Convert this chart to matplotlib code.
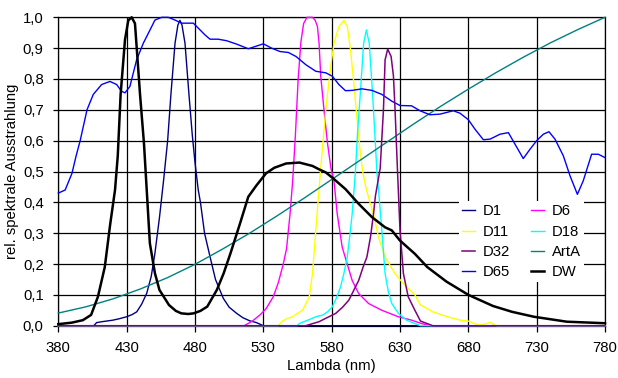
import matplotlib
matplotlib.use("Agg")
import matplotlib.pyplot as plt
from matplotlib.ticker import FixedLocator, FixedFormatter

plt.rcParams['font.family'] = ['Liberation Sans', 'DejaVu Sans']

# ---- data ----
d65_wl = [380, 385, 390, 393, 396, 401, 405.6, 411.7, 417.8, 422.7, 426.3, 428.8, 432.4, 437.3, 442.2,
          447.1, 450.7, 455.6, 460.5, 465.4, 470.2, 475.1, 478.8, 482.4, 487.3, 491, 497, 503.2, 510.5,
          519, 523.9, 530, 536.1, 542.2, 548.3, 553.9, 561.2, 568.4, 575.7, 580.5, 585.3, 590.1, 595,
          602.2, 609.5, 616.7, 624, 630, 638.5, 644.6, 651.9, 659.3, 669, 673.9, 680, 684.9, 691, 695.9,
          703.2, 709.3, 714.1, 720.2, 725.1, 730, 734.9, 739, 743.4, 749.5, 754.4, 759.8, 764.1, 770.2,
          775.1, 780]
d65_val = [0.43, 0.44, 0.494, 0.55, 0.60, 0.70, 0.75, 0.782, 0.792, 0.782, 0.76, 0.755, 0.776, 0.862, 0.916,
           0.959, 0.991, 1.0, 1.0, 0.991, 0.981, 0.981, 0.981, 0.965, 0.943, 0.929, 0.929, 0.924, 0.913,
           0.898, 0.905, 0.914, 0.90, 0.889, 0.886, 0.873, 0.846, 0.825, 0.82, 0.809, 0.782, 0.762, 0.763,
           0.768, 0.763, 0.75, 0.728, 0.714, 0.713, 0.697, 0.684, 0.686, 0.697, 0.689, 0.668, 0.637, 0.603, 0.605,
           0.621, 0.626, 0.589, 0.542, 0.572, 0.60, 0.621, 0.629, 0.605, 0.551, 0.486, 0.426, 0.47, 0.556,
           0.556, 0.545]

d1_wl = [380, 406, 408, 412, 420, 425, 430, 434, 437.4, 441, 444.7, 448, 450.7, 454, 457, 460, 462.4,
         465.4, 467.5, 469, 470.5, 472.7, 475.6, 478, 480, 482.4, 484, 487, 491, 495, 500.7, 505, 510.5,
         515, 520, 525, 530, 780]
d1_val = [0, 0, 0.01, 0.013, 0.018, 0.023, 0.029, 0.036, 0.045, 0.07, 0.105, 0.16, 0.235, 0.35, 0.47, 0.6, 0.75,
          0.916, 0.975, 0.99, 0.975, 0.916, 0.75, 0.62, 0.53, 0.44, 0.40, 0.30, 0.224, 0.15, 0.089, 0.06, 0.04,
          0.026, 0.016, 0.01, 0.0, 0]

dw_wl = [380, 390, 398, 404, 409, 414, 418, 421.5, 423.5, 425.6, 428.8, 431.2, 433.7, 436.1, 438, 439.8,
         442.7, 444.7, 447, 450.7, 454, 461, 466, 470, 475, 479, 484, 489, 496, 501, 506, 513, 519, 525,
         532, 538, 546.7, 556.4, 566, 570.8, 575.7, 580.5, 590.1, 599.8, 609.5, 619.1, 624, 630, 640.9,
         650, 664, 680, 698, 712, 728, 752, 780]
dw_val = [0.005, 0.01, 0.018, 0.035, 0.094, 0.19, 0.33, 0.44, 0.55, 0.75, 0.927, 0.99, 1.0, 0.98, 0.862, 0.75,
          0.59, 0.44, 0.267, 0.17, 0.116, 0.067, 0.048, 0.04, 0.038, 0.04, 0.048, 0.062, 0.116, 0.17, 0.235,
          0.332, 0.418, 0.455, 0.494, 0.512, 0.526, 0.529, 0.518, 0.507, 0.497, 0.48, 0.443, 0.395, 0.352,
          0.319, 0.309, 0.276, 0.233, 0.19, 0.143, 0.10, 0.064, 0.045, 0.029, 0.013, 0.008]

d6_wl = [380, 516, 522, 527.6, 532, 537.3, 541, 544.6, 547, 549.5, 551.5, 553.5, 555.5, 557.5, 559.5, 562,
         566, 568, 569.6, 570.8, 572, 574.4, 576.9, 579.5, 581.7, 584.1, 587.7, 591.4, 595, 599.8, 607,
         616.7, 628.8, 638.5, 645, 652, 780]
d6_val = [0, 0, 0.015, 0.035, 0.055, 0.094, 0.14, 0.20, 0.25, 0.36, 0.47, 0.62, 0.80, 0.92, 0.98, 1.0,
          1.0, 0.99, 0.97, 0.916, 0.81, 0.70, 0.594, 0.51, 0.47, 0.362, 0.255, 0.20, 0.147, 0.104, 0.072,
          0.05, 0.029, 0.018, 0.008, 0, 0]

d11_wl = [380, 541, 544, 547.9, 551.5, 555, 558.7, 561, 563.6, 566, 568.4, 571.8, 575.7, 579.3, 581.7,
          585.3, 588.9, 591.4, 593.8, 596.2, 598.6, 601, 602.7, 605, 607, 610.6, 614.3, 619.1, 626.3,
          633.6, 640.9, 645, 648, 654, 664, 674, 680, 684, 688, 692, 696, 699, 701, 780]
d11_val = [0, 0, 0.015, 0.024, 0.029, 0.04, 0.05, 0.07, 0.094, 0.169, 0.31, 0.5, 0.70, 0.84, 0.916,
           0.97, 0.99, 0.97, 0.895, 0.787, 0.67, 0.56, 0.5, 0.45, 0.416, 0.362, 0.287, 0.223, 0.169,
           0.131, 0.10, 0.067, 0.06, 0.045, 0.03, 0.018, 0.015, 0.008, 0.002, 0.005, 0.011, 0.003, 0, 0]

d18_wl = [380, 555, 556.4, 563.6, 569, 573.2, 577, 580.5, 583.5, 586.5, 589, 591.4, 593.5, 595, 597.4,
          599, 601, 603.4, 605.4, 607.5, 609.9, 611.5, 613.1, 614.5, 616.7, 619.1, 621.5, 624, 628.8,
          634.8, 640.9, 645, 780]
d18_val = [0, 0, 0.007, 0.02, 0.03, 0.034, 0.045, 0.061, 0.09, 0.126, 0.17, 0.223, 0.3, 0.362, 0.5,
           0.63, 0.755, 0.916, 0.959, 0.916, 0.755, 0.63, 0.5, 0.43, 0.31, 0.169, 0.11, 0.072, 0.04,
           0.018, 0.007, 0, 0]

d32_wl = [380, 561, 570.8, 575.7, 583, 588, 592.6, 599.8, 603, 605.8, 608.5, 610.6, 612, 615.5, 617.9,
          619.1, 621, 623.5, 625.2, 626.4, 628.2, 630, 632.5, 636, 640.9, 645, 654, 780]
d32_val = [0, 0, 0.013, 0.024, 0.04, 0.06, 0.083, 0.147, 0.19, 0.223, 0.29, 0.362, 0.42, 0.51, 0.70,
           0.862, 0.897, 0.873, 0.81, 0.70, 0.5, 0.31, 0.169, 0.094, 0.05, 0.015, 0, 0]

arta_wl = [380, 400, 420, 440, 460, 480, 500, 520, 540, 560, 580, 600, 620, 640, 660, 680, 700, 720,
           740, 760, 780]
arta_val = [0.041, 0.061, 0.087, 0.119, 0.156, 0.199, 0.248, 0.300, 0.356, 0.414, 0.474, 0.534, 0.594,
            0.654, 0.712, 0.767, 0.820, 0.870, 0.917, 0.960, 1.0]

x_ticks = [380, 430, 480, 530, 580, 630, 680, 730, 780]
y_ticks = [0.0, 0.1, 0.2, 0.3, 0.4, 0.5, 0.6, 0.7, 0.8, 0.9, 1.0]
y_tick_labels = ["0,0", "0,1", "0,2", "0,3", "0,4", "0,5", "0,6", "0,7", "0,8", "0,9", "1,0"]

FS = 10.7

# ---- figure ----
fig = plt.figure(figsize=(6.18, 3.78), dpi=100)
ax = fig.add_axes([58.3 / 618, 1 - 325.7 / 378, (605 - 58.3) / 618, (325.7 - 17.3) / 378])

# name, x, y, colour, width, drawing order
series = [
    ("D1", d1_wl, d1_val, "#000080", 1.0, 3),
    ("D11", d11_wl, d11_val, "#FFFF00", 1.0, 3.2),
    ("D32", d32_wl, d32_val, "#800080", 1.1, 3.6),
    ("D65", d65_wl, d65_val, "#0000FF", 1.0, 3.5),
    ("D6", d6_wl, d6_val, "#FF00FF", 1.0, 3.1),
    ("D18", d18_wl, d18_val, "#00FFFF", 1.0, 3.3),
    ("ArtA", arta_wl, arta_val, "#008080", 1.0, 3.4),
    ("DW", dw_wl, dw_val, "#000000", 1.8, 3.8),
]
handles = []
for name, wl, val, col, lw, z in series:
    h, = ax.plot(wl, val, color=col, lw=lw, label=name, zorder=z, clip_on=False)
    handles.append(h)

ax.set_xlim(380, 780)
ax.set_ylim(0, 1.0)
ax.xaxis.set_major_locator(FixedLocator(x_ticks))
ax.set_xticklabels([str(v) for v in x_ticks])
ax.yaxis.set_major_locator(FixedLocator(y_ticks))
ax.yaxis.set_major_formatter(FixedFormatter(y_tick_labels))
ax.grid(True, color="black", lw=0.9, zorder=1)
ax.set_axisbelow(True)
for s in ax.spines.values():
    s.set_color("black")
    s.set_linewidth(0.9)
ax.tick_params(axis="x", direction="out", length=4, width=0.9, colors="black",
               labelsize=FS, pad=7)
ax.tick_params(axis="y", direction="out", length=3.5, width=0.9, colors="black",
               labelsize=FS, pad=7)

ax.set_xlabel("Lambda (nm)", fontsize=FS)
ax.set_ylabel("rel. spektrale Ausstrahlung", fontsize=FS)
ax.xaxis.set_label_coords(0.5, (325.7 - 359) / 308.4)
ax.xaxis.label.set_verticalalignment("top")
ax.yaxis.set_label_coords((19 - 58.3) / 546.7, 0.5)

leg = ax.legend(handles=handles, ncol=2, loc="upper left",
                bbox_to_anchor=(458.7 / 618, 1 - 201.5 / 378), bbox_transform=fig.transFigure,
                fontsize=FS, frameon=True, fancybox=False, edgecolor="none", facecolor="white",
                framealpha=1.0, handlelength=0.875, handletextpad=0.52, columnspacing=1.46,
                labelspacing=0.42, borderpad=0.2, borderaxespad=0)
leg.set_zorder(5)

fig.savefig("out.png", dpi=100)
